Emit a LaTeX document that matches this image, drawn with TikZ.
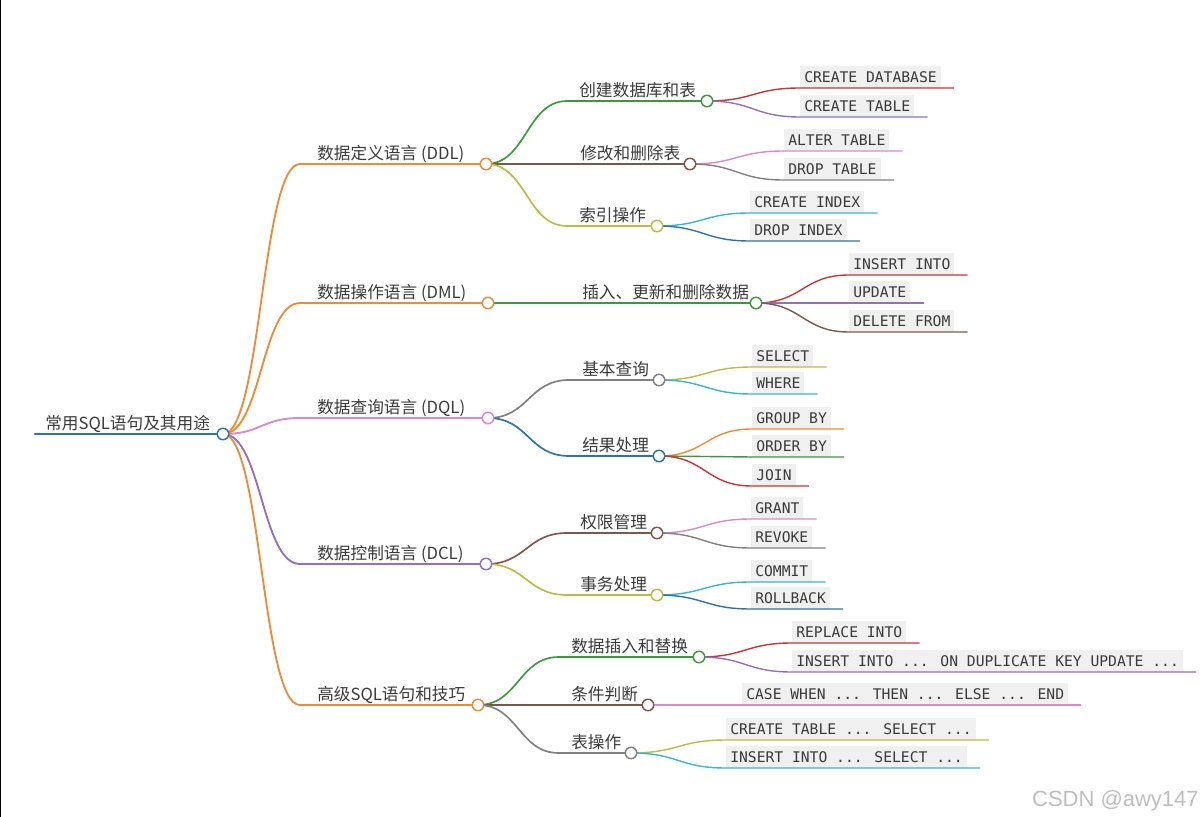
\documentclass[tikz,border=0pt]{standalone}
\usepackage{fontspec}
\newfontfamily\cjk{Noto Sans CJK SC}
\newfontfamily\monof{DejaVu Sans Mono}
\newfontfamily\wmf{Liberation Sans}
\usetikzlibrary{calc}
\definecolor{cBlue}{HTML}{2A74A8}
\definecolor{cOrange}{HTML}{EE8C35}
\definecolor{cGreen}{HTML}{3A9A3A}
\definecolor{cRed}{HTML}{C83434}
\definecolor{cPurple}{HTML}{9470B8}
\definecolor{cBrown}{HTML}{7E574B}
\definecolor{cPink}{HTML}{DD88CC}
\definecolor{cGray}{HTML}{808080}
\definecolor{cOlive}{HTML}{BCBD3A}
\definecolor{cCyan}{HTML}{34B8CC}
\definecolor{txt}{HTML}{3A3A3A}
\definecolor{boxbg}{HTML}{F0F0F0}
\definecolor{wmgray}{HTML}{BEBEBE}
\newcommand\curv[3]{\path ($(#2)!0.5!(#3)$) coordinate (tmpM);
  \draw[#1] (#2) .. controls (tmpM |- #2) and (tmpM |- #3) .. (#3)}
\begin{document}
\begin{tikzpicture}[x=0.75pt,y=-0.75pt,
  lbl/.style={font=\cjk\fontsize{12.5pt}{14pt}\selectfont, text=txt, inner sep=0, anchor=base west},
  dot/.style={circle, draw=#1, fill=white, line width=1.1pt, minimum size=8.6pt, inner sep=0},
  code/.style={font=\monof\fontsize{11pt}{13pt}\selectfont, text=txt, fill=boxbg, inner xsep=3pt, inner ysep=0pt, minimum height=16.5pt, text height=8pt, text depth=0pt, anchor=south west},
  l0/.style={line width=2pt, line cap=round},
  l1/.style={line width=1.4pt},
  l2/.style={line width=1.25pt},
  l3/.style={line width=1.05pt}]
\useasboundingbox (0,0) rectangle (1204,817);
\fill[black] (0,0) rectangle (1.5,817);

% ---------- coordinates of the circles ----------
\coordinate (R) at (223,434);
\coordinate (Rs) at (35,434);
\coordinate (DDL) at (486,164);  \coordinate (DDLs) at (300,164);
\coordinate (DML) at (488,303);  \coordinate (DMLs) at (300,303);
\coordinate (DQL) at (488,418);  \coordinate (DQLs) at (300,418);
\coordinate (DCL) at (486,564);  \coordinate (DCLs) at (300,564);
\coordinate (ADV) at (478,705);  \coordinate (ADVs) at (300,705);

\coordinate (Cj) at (707,101);  \coordinate (Cjs) at (567,101);
\coordinate (Xg) at (690,164);  \coordinate (Xgs) at (567,164);
\coordinate (Sy) at (657,226);  \coordinate (Sys) at (567,226);
\coordinate (Cr) at (756,303);  \coordinate (Crs) at (569,303);
\coordinate (Jb) at (659,380);  \coordinate (Jbs) at (569,380);
\coordinate (Jg) at (659,456);  \coordinate (Jgs) at (569,456);
\coordinate (Qx) at (657,533);  \coordinate (Qxs) at (567,533);
\coordinate (Sw) at (657,595);  \coordinate (Sws) at (567,595);
\coordinate (Sj) at (699,657);  \coordinate (Sjs) at (559,657);
\coordinate (Tj) at (648,705);  \coordinate (Tjs) at (559,705);
\coordinate (Bc) at (631,753);  \coordinate (Bcs) at (559,753);

% ---------- labels ----------
\node[lbl] (tR) at (45,429.5) {常用SQL语句及其用途};
\node[lbl] (tDDL) at (317,159.5) {数据定义语言 (DDL)};
\node[lbl] (tDML) at (317,298.5) {数据操作语言 (DML)};
\node[lbl] (tDQL) at (317,413.5) {数据查询语言 (DQL)};
\node[lbl] (tDCL) at (317,559.5) {数据控制语言 (DCL)};
\node[lbl] (tADV) at (317,700.5) {高级SQL语句和技巧};

\node[lbl] (tCj) at (579,96.5) {创建数据库和表};
\node[lbl] (tXg) at (580,159.5) {修改和删除表};
\node[lbl] (tSy) at (579,221.5) {索引操作};
\node[lbl] (tCr) at (582,298.5) {插入、更新和删除数据};
\node[lbl] (tJb) at (582,375.5) {基本查询};
\node[lbl] (tJg) at (582,451.5) {结果处理};
\node[lbl] (tQx) at (580,528.5) {权限管理};
\node[lbl] (tSw) at (580,590.5) {事务处理};
\node[lbl] (tSj) at (571,652.5) {数据插入和替换};
\node[lbl] (tTj) at (571,700.5) {条件判断};
\node[lbl] (tBc) at (571,748.5) {表操作};

% ---------- code boxes ----------
\node[code] (b1) at (800,88) {CREATE DATABASE};
\node[code] (b2) at (800,117) {CREATE TABLE};
\node[code] (b3) at (784,151) {ALTER TABLE};
\node[code] (b4) at (784,180) {DROP TABLE};
\node[code] (b5) at (750,213) {CREATE INDEX};
\node[code] (b6) at (750,241) {DROP INDEX};
\node[code] (b7) at (849,275) {INSERT INTO};
\node[code] (b8) at (849,303) {UPDATE};
\node[code] (b9) at (849,332) {DELETE FROM};
\node[code] (b10) at (752,367) {SELECT};
\node[code] (b11) at (752,394) {WHERE};
\node[code] (b12) at (752,429) {GROUP BY};
\node[code] (b13) at (752,457) {ORDER BY};
\node[code] (b14) at (752,486) {JOIN};
\node[code] (b15) at (751,519) {GRANT};
\node[code] (b16) at (751,548) {REVOKE};
\node[code] (b17) at (751,582) {COMMIT};
\node[code] (b18) at (751,609) {ROLLBACK};
\node[code] (b19) at (792,643) {REPLACE INTO};
\node[code] (b20) at (792,672) {INSERT INTO ... ON DUPLICATE KEY UPDATE ...};
\node[code] (b21) at (742,705) {CASE WHEN ... THEN ... ELSE ... END};
\node[code] (b22) at (726,740) {CREATE TABLE ... SELECT ...};
\node[code] (b23) at (726,768) {INSERT INTO ... SELECT ...};

% ---------- connectors ----------
\draw[l0,cBlue] (Rs) -- (R);
\curv{l1,cOrange}{R}{DDLs} -- (DDL);
\curv{l1,cOrange}{R}{DMLs} -- (DML);
\curv{l1,cPink}{R}{DQLs} -- (DQL);
\curv{l1,cPurple}{R}{DCLs} -- (DCL);
\curv{l1,cOrange}{R}{ADVs} -- (ADV);

\curv{l2,cGreen}{DDL}{Cjs} -- (Cj);
\curv{l2,cBrown}{DDL}{Xgs} -- (Xg);
\curv{l2,cOlive}{DDL}{Sys} -- (Sy);
\curv{l2,cGreen}{DML}{Crs} -- (Cr);
\curv{l2,cGray}{DQL}{Jbs} -- (Jb);
\curv{l2,cBlue}{DQL}{Jgs} -- (Jg);
\curv{l2,cBrown}{DCL}{Qxs} -- (Qx);
\curv{l2,cOlive}{DCL}{Sws} -- (Sw);
\curv{l2,cGreen}{ADV}{Sjs} -- (Sj);
\curv{l2,cBrown}{ADV}{Tjs} -- (Tj);
\curv{l2,cGray}{ADV}{Bcs} -- (Bc);

\curv{l3,cRed}{Cj}{b1.south west} -- ($(b1.south east)+(13,0)$);
\curv{l3,cPurple}{Cj}{b2.south west} -- ($(b2.south east)+(13,0)$);
\curv{l3,cPink}{Xg}{b3.south west} -- ($(b3.south east)+(13,0)$);
\curv{l3,cGray}{Xg}{b4.south west} -- ($(b4.south east)+(13,0)$);
\curv{l3,cCyan}{Sy}{b5.south west} -- ($(b5.south east)+(13,0)$);
\curv{l3,cBlue}{Sy}{b6.south west} -- ($(b6.south east)+(13,0)$);
\curv{l3,cRed}{Cr}{b7.south west} -- ($(b7.south east)+(13,0)$);
\curv{l3,cPurple}{Cr}{b8.south west} -- ($(b8.south east)+(13,0)$);
\curv{l3,cBrown}{Cr}{b9.south west} -- ($(b9.south east)+(13,0)$);
\curv{l3,cOlive}{Jb}{b10.south west} -- ($(b10.south east)+(13,0)$);
\curv{l3,cCyan}{Jb}{b11.south west} -- ($(b11.south east)+(13,0)$);
\curv{l3,cOrange}{Jg}{b12.south west} -- ($(b12.south east)+(13,0)$);
\curv{l3,cGreen}{Jg}{b13.south west} -- ($(b13.south east)+(13,0)$);
\curv{l3,cRed}{Jg}{b14.south west} -- ($(b14.south east)+(13,0)$);
\curv{l3,cPink}{Qx}{b15.south west} -- ($(b15.south east)+(13,0)$);
\curv{l3,cGray}{Qx}{b16.south west} -- ($(b16.south east)+(13,0)$);
\curv{l3,cCyan}{Sw}{b17.south west} -- ($(b17.south east)+(13,0)$);
\curv{l3,cBlue}{Sw}{b18.south west} -- ($(b18.south east)+(13,0)$);
\curv{l3,cRed}{Sj}{b19.south west} -- ($(b19.south east)+(13,0)$);
\curv{l3,cPurple}{Sj}{b20.south west} -- ($(b20.south east)+(13,0)$);
\curv{l3,cPink}{Tj}{b21.south west} -- ($(b21.south east)+(13,0)$);
\curv{l3,cOlive}{Bc}{b22.south west} -- ($(b22.south east)+(13,0)$);
\curv{l3,cCyan}{Bc}{b23.south west} -- ($(b23.south east)+(13,0)$);

% ---------- circles ----------
\node[dot=cBlue] (nR) at (R) {};
\node[dot=cOrange] (nDDL) at (DDL) {};
\node[dot=cOrange] (nDML) at (DML) {};
\node[dot=cPink] (nDQL) at (DQL) {};
\node[dot=cPurple] (nDCL) at (DCL) {};
\node[dot=cOrange] (nADV) at (ADV) {};
\node[dot=cGreen] (nCj) at (Cj) {};
\node[dot=cBrown] (nXg) at (Xg) {};
\node[dot=cOlive] (nSy) at (Sy) {};
\node[dot=cGreen] (nCr) at (Cr) {};
\node[dot=cGray] (nJb) at (Jb) {};
\node[dot=cBlue] (nJg) at (Jg) {};
\node[dot=cBrown] (nQx) at (Qx) {};
\node[dot=cOlive] (nSw) at (Sw) {};
\node[dot=cGreen] (nSj) at (Sj) {};
\node[dot=cBrown] (nTj) at (Tj) {};
\node[dot=cGray] (nBc) at (Bc) {};

% ---------- watermark ----------
\node[font=\wmf\fontsize{16.5pt}{18pt}\selectfont, text=wmgray, anchor=base east, inner sep=0] (wm) at (1199,806) {CSDN @awy147};
\end{tikzpicture}
\end{document}
